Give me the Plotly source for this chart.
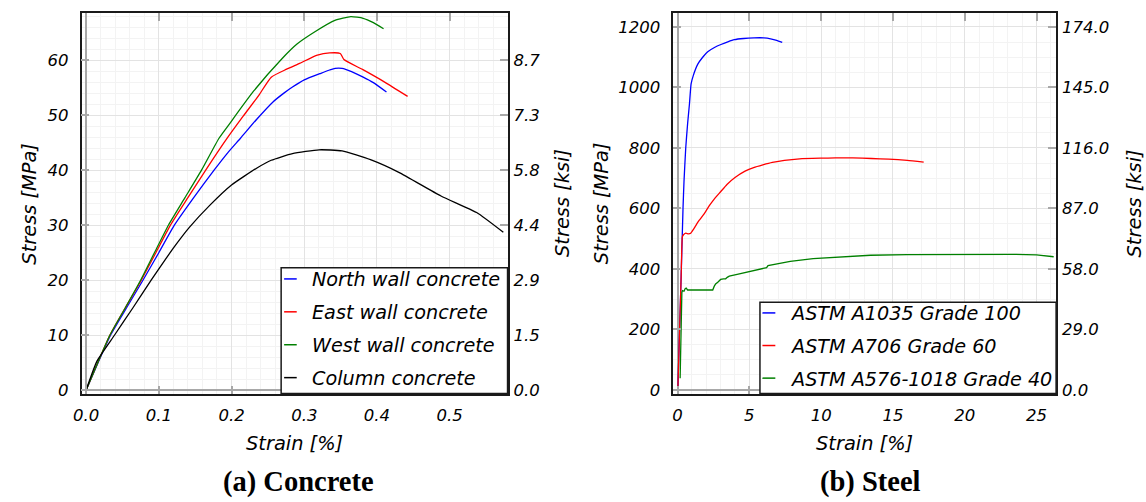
import plotly.graph_objects as go

W, H = 1146, 502

# ---------------- Concrete: strain [%] vs stress [MPa] ----------------
north_strain = [0, 0.0336, 0.0557, 0.0782, 0.1, 0.1214, 0.148, 0.176, 0.195, 0.2123, 0.235,
                0.257, 0.272, 0.2838, 0.30, 0.3228, 0.335, 0.3423, 0.352, 0.365, 0.381, 0.395, 0.413]
north_stress = [0, 10, 15, 20, 25, 30, 35, 40, 43.2, 45.8, 49.3,
                52.4, 54.0, 55.1, 56.4, 57.6, 58.2, 58.5, 58.5, 57.9, 56.9, 55.9, 54.2]

east_strain = [0, 0.0327, 0.054, 0.0759, 0.096, 0.116, 0.14, 0.1645, 0.194, 0.216, 0.2375,
               0.2546, 0.275, 0.2936, 0.318, 0.335, 0.3495, 0.3545, 0.38, 0.4105, 0.4421]
east_stress = [0, 10, 15, 20, 25, 30, 35, 40, 45.8, 49.8, 53.6,
               56.9, 58.3, 59.4, 60.9, 61.3, 61.2, 60.1, 58.3, 56.0, 53.4]

west_strain = [0, 0.0327, 0.054, 0.075, 0.094, 0.1132, 0.136, 0.1587, 0.1828, 0.196, 0.23,
               0.269, 0.29, 0.313, 0.342, 0.364, 0.381, 0.395, 0.409]
west_stress = [0, 10, 15, 20, 25, 30, 35, 40, 45.8, 48.2, 54.3,
               60.2, 62.9, 65.0, 67.2, 67.9, 67.6, 66.8, 65.7]

column_strain = [0, 0.015, 0.039, 0.0645, 0.0895, 0.121, 0.142, 0.17, 0.2, 0.235, 0.2546,
                 0.2838, 0.3203, 0.352, 0.391, 0.43, 0.488, 0.537, 0.5737]
column_stress = [0, 5.3, 10, 15, 20, 26, 29.6, 33.6, 37.3, 40.4, 41.8,
                 43.0, 43.7, 43.5, 41.9, 39.6, 35.3, 32.3, 28.7]

concrete_mpa_ticks = [0, 10, 20, 30, 40, 50, 60]
concrete_ksi_labels = ["0.0", "1.5", "2.9", "4.4", "5.8", "7.3", "8.7"]

# ---------------- Steel: strain [%] vs stress [MPa] ----------------
a1035_strain = [0.02, 0.25, 0.38, 0.45, 0.57, 0.7, 0.83, 0.94, 1.1, 1.41, 1.75, 2.1, 2.6,
                3.02, 3.5, 3.95, 4.6, 5.33, 6.0, 6.48, 6.9, 7.29]
a1035_stress = [0, 374, 600, 690, 800, 880, 946, 1011, 1040, 1077, 1100, 1118, 1133,
                1142, 1151, 1158, 1162, 1164, 1164, 1161, 1156, 1149]

a706_strain = [0.02, 0.25, 0.33, 0.4, 0.57, 0.75, 0.92, 1.1, 1.27, 1.5, 1.84, 2.2, 2.54,
               3.0, 3.44, 4.0, 4.7, 5.3, 5.94, 6.6, 7.44, 8.5, 9.94, 11.0, 12.2, 13.5,
               14.7, 16.0, 17.14]
a706_stress = [0, 374, 505, 512, 518, 516, 518, 530, 543, 560, 581, 608, 630,
               655, 679, 702, 723, 735, 744, 752, 759, 764, 766, 767, 767, 765,
               763, 759, 753]

a576_strain = [0.18, 0.22, 0.27, 0.3, 0.35, 0.45, 0.53, 0.6, 0.7, 0.85, 1.0, 1.3, 1.6,
               1.9, 2.2, 2.45, 2.55, 2.65, 2.8, 3.0, 3.2, 3.35, 3.46, 3.6, 4.15, 5.0,
               5.8, 6.2, 6.3, 6.5, 7.85, 9.44, 11.5, 13.44, 16.0, 18.44, 21.0, 23.44,
               25.0, 26.19]
a576_stress = [38, 150, 280, 322, 328, 326, 334, 336, 330, 330, 329, 328, 329,
               328, 328, 330, 342, 350, 356, 365, 367, 367, 372, 376, 382, 391,
               400, 404, 411, 413, 425, 434, 440, 445, 447, 448, 448, 448,
               446, 440]

steel_mpa_ticks = [0, 200, 400, 600, 800, 1000, 1200]
steel_ksi_labels = ["0.0", "29.0", "58.0", "87.0", "116.0", "145.0", "174.0"]

# (name, strain, stress, colour, line shape)
concrete_series = [
    ("North wall concrete", north_strain, north_stress, "#0000ff", "spline"),
    ("East wall concrete", east_strain, east_stress, "#ff0000", "spline"),
    ("West wall concrete", west_strain, west_stress, "#008000", "spline"),
    ("Column concrete", column_strain, column_stress, "#000000", "spline"),
]
steel_series = [
    ("ASTM A1035 Grade 100", a1035_strain, a1035_stress, "#0000ff", "spline"),
    ("ASTM A706 Grade 60", a706_strain, a706_stress, "#ff0000", "spline"),
    ("ASTM A576-1018 Grade 40", a576_strain, a576_stress, "#008000", "linear"),
]

# ---------------- layout geometry (pixels) ----------------
PLOT_TOP, PLOT_BOTTOM = 13.3, 398.3
LEFT_X0, LEFT_X1 = 73.2, 502.5
RIGHT_X0, RIGHT_X1 = 669.5, 1055.4


def fx(p):
    return p / W


def fy(p):
    return 1 - p / H


FONT = "DejaVu Sans"
tick_font = dict(family=FONT, size=16.5, color="black", style="italic")
label_font = dict(family=FONT, size=19.4, color="black", style="italic")
legend_font = dict(family=FONT, size=19.2, color="black", style="italic")
caption_font = dict(family="Liberation Serif", size=28.5, color="black", weight="bold")

fig = go.Figure()

for name, xs, ys, color, shape in concrete_series:
    fig.add_trace(go.Scatter(x=xs, y=ys, mode="lines", name=name,
                             line=dict(color=color, width=1.3, shape=shape, smoothing=0.5),
                             xaxis="x", yaxis="y", showlegend=False))
for name, xs, ys, color, shape in steel_series:
    fig.add_trace(go.Scatter(x=xs, y=ys, mode="lines", name=name,
                             line=dict(color=color, width=1.3, shape=shape, smoothing=0.4),
                             xaxis="x2", yaxis="y2", showlegend=False))

# the ksi axes share each panel's MPa scale; an empty trace makes them render
for xa, ya in (("x", "y3"), ("x2", "y4")):
    fig.add_trace(go.Scatter(x=[None], y=[None], mode="lines", xaxis=xa, yaxis=ya,
                             showlegend=False, hoverinfo="skip"))

GRID = "#e3e3e3"
MINOR = "#f3f3f3"
ZERO = "#a8a8a8"


def base_axis(**kw):
    d = dict(showgrid=True, gridcolor=GRID, gridwidth=1,
             zeroline=True, zerolinecolor=ZERO, zerolinewidth=2,
             showline=True, linecolor="#1a1a1a", linewidth=1.5, mirror="ticks",
             ticks="inside", ticklen=8, tickwidth=2, tickcolor=ZERO,
             tickfont=tick_font, ticklabelstandoff=8)
    d.update(kw)
    return d


def side_axis(**kw):
    d = dict(side="right", showgrid=False, zeroline=False, showline=False,
             ticks="", tickfont=tick_font, tickmode="array", ticklabelstandoff=5)
    d.update(kw)
    return d


ydom = [fy(PLOT_BOTTOM), fy(PLOT_TOP)]
c_yrange = [-0.59, 68.53]
s_yrange = [-12.4, 1245.8]

fig.update_layout(
    width=W, height=H,
    margin=dict(l=0, r=0, t=0, b=0),
    paper_bgcolor="white", plot_bgcolor="white",
    showlegend=False,
    xaxis=base_axis(domain=[fx(LEFT_X0), fx(LEFT_X1)], range=[-0.0061, 0.5795],
                    tick0=0, dtick=0.1, tickformat=".1f", anchor="y",
                    ticklabelstandoff=6,
                    minor=dict(dtick=0.02, showgrid=True, gridcolor=MINOR)),
    yaxis=base_axis(domain=ydom, range=c_yrange, tick0=0, dtick=10, anchor="x",
                    minor=dict(dtick=2, showgrid=True, gridcolor=MINOR)),
    yaxis3=side_axis(overlaying="y", anchor="x", range=c_yrange,
                     tickvals=concrete_mpa_ticks, ticktext=concrete_ksi_labels),
    xaxis2=base_axis(domain=[fx(RIGHT_X0), fx(RIGHT_X1)], range=[-0.3, 26.36],
                     tick0=0, dtick=5, anchor="y2", ticklabelstandoff=6,
                     minor=dict(dtick=1, showgrid=True, gridcolor=MINOR)),
    yaxis2=base_axis(domain=ydom, range=s_yrange, tick0=0, dtick=200, anchor="x2",
                     minor=dict(dtick=50, showgrid=True, gridcolor=MINOR)),
    yaxis4=side_axis(overlaying="y2", anchor="x2", range=s_yrange,
                     tickvals=steel_mpa_ticks, ticktext=steel_ksi_labels),
)

annotations = []
shapes = []


def text(x, y, s, font, angle=0, xanchor="center"):
    annotations.append(dict(x=fx(x), y=fy(y), xref="paper", yref="paper", text=s,
                            showarrow=False, font=font, textangle=angle,
                            xanchor=xanchor, yanchor="middle"))


mid_y = (PLOT_TOP + PLOT_BOTTOM) / 2
# axis titles
text(20.5, mid_y, "Stress [MPa]", label_font, angle=-90)
text(558, mid_y, "Stress [ksi]", label_font, angle=-90)
text((LEFT_X0 + LEFT_X1) / 2, 449, "Strain [%]", label_font)
text(597.5, mid_y, "Stress [MPa]", label_font, angle=-90)
text(1134, mid_y, "Stress [ksi]", label_font, angle=-90)
text((RIGHT_X0 + RIGHT_X1) / 2, 449, "Strain [%]", label_font)
# panel captions
text(292, 488, "(a) Concrete", caption_font)
text(868, 488, "(b) Steel", caption_font)


def legend_box(x0, y0, x1, y1, series, line_x0, line_x1, text_x, first_y, step):
    shapes.append(dict(type="rect", xref="paper", yref="paper",
                       x0=fx(x0), x1=fx(x1), y0=fy(y1), y1=fy(y0),
                       line=dict(color="#1a1a1a", width=1.5), fillcolor="white",
                       layer="above"))
    for i, (name, _, _, color, _) in enumerate(series):
        yy = first_y + i * step
        shapes.append(dict(type="line", xref="paper", yref="paper",
                           x0=fx(line_x0), x1=fx(line_x1), y0=fy(yy), y1=fy(yy),
                           line=dict(color=color, width=1.5), layer="above"))
        text(text_x, yy + 1, name, legend_font, xanchor="left")


legend_box(274.3, 271, LEFT_X1, PLOT_BOTTOM, concrete_series,
           277.3, 290, 303.5, 282.3, 33.3)
legend_box(756.9, 306, RIGHT_X1, PLOT_BOTTOM, steel_series,
           759.4, 772.4, 785.5, 316.7, 33.0)

fig.update_layout(annotations=annotations, shapes=shapes)
fig.write_html("out.html")
